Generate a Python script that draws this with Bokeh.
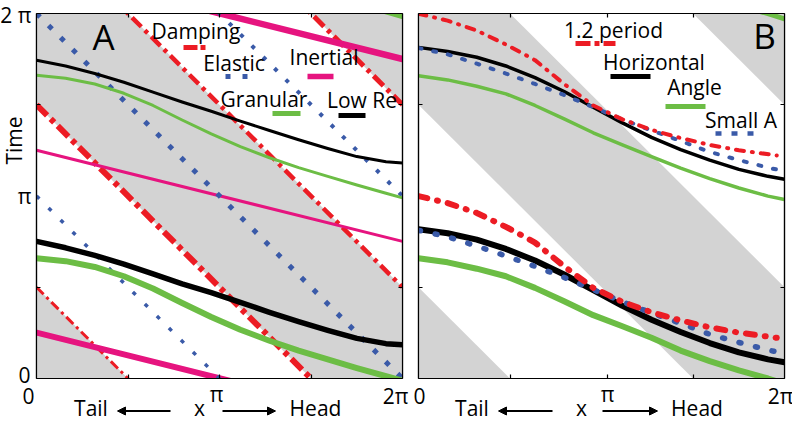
import numpy as np
from bokeh.plotting import figure
from bokeh.layouts import row, column
from bokeh.models import Label, Arrow, NormalHead, FixedTicker, LinearAxis, Range1d
from bokeh.embed import file_html
from bokeh.resources import INLINE

PI = np.pi
TAU = 2 * np.pi

# ------------------------------------------------------------------ data
# common sample positions along the body (x, radians)
x_pts = [0.0, 0.5, 1.0, 1.5, 2.0, 2.5, 3.0, 3.5, 4.0, 4.5, 5.0, 5.5, 6.0, 6.283]

# Panel A
band_lo = [-PI / 2, 3 * PI / 2, 7 * PI / 2]          # shaded travelling-wave bands (t + x)
band_hi = [PI / 2, 5 * PI / 2, 9 * PI / 2]
damping_phase = [PI / 2, 3 * PI / 2, 5 * PI / 2, 7 * PI / 2]   # t + x = phase
elastic_phase = [PI, 2 * PI, 3 * PI]
inertial_t_at_0 = [0.79, 3.93, 7.07]
inertial_t_at_2pi = [-0.78, 2.36, 5.50]
granular_low = [2.07, 2.02, 1.92, 1.76, 1.55, 1.30, 1.06, 0.84, 0.65, 0.48, 0.33, 0.18, 0.04, -0.04]
granular_high = [5.22, 5.17, 5.07, 4.91, 4.70, 4.45, 4.21, 3.99, 3.80, 3.63, 3.48, 3.33, 3.19, 3.11]
granular_wrap_x = [5.5, 6.0, 6.283]
granular_wrap_t = [6.46, 6.32, 6.24]
lowre_low = [2.36, 2.25, 2.12, 1.97, 1.80, 1.63, 1.48, 1.31, 1.14, 0.98, 0.83, 0.69, 0.60, 0.58]
lowre_high = [5.48, 5.38, 5.25, 5.10, 4.93, 4.76, 4.60, 4.43, 4.27, 4.11, 3.96, 3.82, 3.73, 3.71]

# Panel B
period12_x = [0.0, 0.5, 1.0, 1.5, 2.0, 2.5, 3.0, 3.5, 4.0, 4.5, 5.0, 5.5, 6.15]
period12_low = [3.14, 3.02, 2.85, 2.61, 2.34, 1.93, 1.56, 1.32, 1.14, 1.00, 0.88, 0.79, 0.70]
period12_high = [6.28, 6.16, 5.99, 5.75, 5.48, 5.07, 4.70, 4.46, 4.28, 4.14, 4.02, 3.93, 3.84]
horizontal_low = [2.57, 2.50, 2.39, 2.23, 2.03, 1.79, 1.52, 1.25, 1.01, 0.80, 0.61, 0.45, 0.33, 0.28]
horizontal_high = [5.70, 5.63, 5.53, 5.38, 5.18, 4.94, 4.67, 4.40, 4.15, 3.94, 3.76, 3.60, 3.48, 3.43]
angle_low = [2.07, 2.00, 1.89, 1.76, 1.56, 1.33, 1.09, 0.90, 0.70, 0.48, 0.30, 0.14, 0.00, -0.09]
angle_high = [5.21, 5.14, 5.03, 4.90, 4.70, 4.47, 4.23, 4.02, 3.82, 3.62, 3.44, 3.28, 3.14, 3.08]
angle_wrap_x = [5.5, 6.0, 6.283]
angle_wrap_t = [6.42, 6.28, 6.19]
smallA_low = [2.55, 2.44, 2.28, 2.11, 1.93, 1.74, 1.53, 1.32, 1.13, 0.95, 0.76, 0.62, 0.49, 0.43]
smallA_high = [5.69, 5.58, 5.42, 5.25, 5.07, 4.88, 4.67, 4.46, 4.27, 4.09, 3.90, 3.76, 3.63, 3.57]

ticks_A = [PI / 2, PI, 3 * PI / 2]
ticks_Bx = [PI / 2, 3.25, 3 * PI / 2]
ticks_y = [PI / 2, 3 * PI / 2]

# ------------------------------------------------------------------ style / layout
RED = "#ec1c24"
BLUE = "#3a5aa8"
MAGENTA = "#e6147f"
GREEN = "#6cbd45"
GRAY = "#d3d3d3"
FONT = "Open Sans"

FRAME_W = 366
FRAME_H = 365
FRAME_TOP = 13
FRAME_BOTTOM = FRAME_TOP + FRAME_H      # 378
LEFT_STRIP_W = 34
PANEL_H = FRAME_BOTTOM + 1             # 379
TOTAL_H = 422
MID = 0.37                             # baseline -> glyph middle, in em


def make_panel(width, border_left, border_right, xticks, yticks):
    p = figure(width=width, height=PANEL_H, x_range=Range1d(0, TAU), y_range=Range1d(0, TAU),
               output_backend="svg", toolbar_location=None,
               x_axis_location=None, y_axis_location=None,
               min_border_left=border_left, min_border_right=border_right,
               min_border_top=FRAME_TOP, min_border_bottom=PANEL_H - FRAME_BOTTOM)
    p.grid.grid_line_color = None
    p.outline_line_color = "black"
    p.outline_line_width = 1.2
    p.background_fill_color = "white"
    p.border_fill_color = "white"
    for loc, ticks in (("below", xticks), ("above", xticks), ("left", yticks), ("right", yticks)):
        ax = LinearAxis(ticker=FixedTicker(ticks=ticks), major_tick_in=4, major_tick_out=0,
                        minor_tick_line_color=None, major_label_text_font_size="0px",
                        major_label_text_color=None, major_label_standoff=0,
                        axis_line_color="black", axis_line_width=1.2,
                        major_tick_line_color="black", major_tick_line_width=1.2)
        p.add_layout(ax, loc)
    return p


def make_strip(width, height, x0, x1, y_top, y_bottom):
    # plain text canvas whose scale is in page pixels
    s = figure(width=width, height=height, x_range=Range1d(x0, x1), y_range=Range1d(y_bottom, y_top),
               output_backend="svg", toolbar_location=None,
               x_axis_location=None, y_axis_location=None,
               min_border_left=0, min_border_right=0, min_border_top=0, min_border_bottom=0)
    s.grid.grid_line_color = None
    s.outline_line_color = None
    s.background_fill_color = "white"
    s.border_fill_color = "white"
    return s


def to_data(frame_left, px, py):
    return (px - frame_left) / FRAME_W * TAU, (FRAME_BOTTOM - py) / FRAME_H * TAU


def label(p, x, y, s, size, align="center", angle=0.0):
    p.add_layout(Label(x=x, y=y, text=s, text_font=FONT, text_font_size=f"{size}px",
                       text_align=align, text_baseline="middle", angle=angle,
                       text_color="black"))


def text(p, frame_left, px, base_py, s, size, **kw):
    # base_py: baseline in page pixels; placed by glyph middle
    x, y = to_data(frame_left, px, base_py - MID * size)
    label(p, x, y, s, size, **kw)


def stext(s, px, base_py, txt, size, **kw):
    label(s, px, base_py - MID * size, txt, size, **kw)


def key(p, frame_left, px0, px1, py, **style):
    x0, y0 = to_data(frame_left, px0, py)
    x1, _ = to_data(frame_left, px1, py)
    p.line([x0, x1], [y0, y0], **style)


def bands(p):
    for lo, hi in zip(band_lo, band_hi):
        p.patch([-1, 8, 8, -1], [lo + 1, lo - 8, hi - 8, hi + 1], fill_color=GRAY, line_color=None)


# ------------------------------------------------------------------ panel A
FL_A = 36
pA = make_panel(2 + FRAME_W + 7, 2, 7, ticks_A, ticks_y)
bands(pA)

damp_w = [3, 6, 4.5, 5]
damp_dash = ["10 4 3 4", "15 5 5 5", "13 5 4 5", "14 5 4 5"]
for c, w, d in zip(damping_phase, damp_w, damp_dash):
    pA.line([0, TAU], [c, c - TAU], line_color=RED, line_width=w, line_dash=d)

for t0, t1, w in zip(inertial_t_at_0, inertial_t_at_2pi, [6, 3, 6.5]):
    pA.line([0, TAU], [t0, t1], line_color=MAGENTA, line_width=w, line_cap="round")

for c, w, d in zip(elastic_phase, [3.5, 5, 4], ["4 13", "5 12", "4 12"]):
    pA.line([0, TAU], [c, c - TAU], line_color=BLUE, line_width=w, line_dash=d)

pA.line(x_pts, granular_low, line_color=GREEN, line_width=6, line_cap="round", line_join="round")
pA.line(x_pts, granular_high, line_color=GREEN, line_width=3, line_cap="round", line_join="round")
pA.line(granular_wrap_x, granular_wrap_t, line_color=GREEN, line_width=6, line_cap="round")
pA.line(x_pts, lowre_low, line_color="black", line_width=5.5, line_cap="round", line_join="round")
pA.line(x_pts, lowre_high, line_color="black", line_width=3, line_cap="round", line_join="round")

text(pA, FL_A, 103, 49, "A", 35)
text(pA, FL_A, 195.5, 38, "Damping", 21)
key(pA, FL_A, 183, 205, 47, line_color=RED, line_width=5, line_dash="14 3 5 3")
text(pA, FL_A, 233.5, 70, "Elastic", 21)
key(pA, FL_A, 225, 247, 76, line_color=BLUE, line_width=5, line_dash="5 12")
text(pA, FL_A, 323.5, 64, "Inertial", 21)
key(pA, FL_A, 307, 333, 76, line_color=MAGENTA, line_width=5.5)
text(pA, FL_A, 263.5, 106, "Granular", 21)
key(pA, FL_A, 272, 300, 113, line_color=GREEN, line_width=5)
text(pA, FL_A, 361.5, 107, "Low Re", 21)
key(pA, FL_A, 338, 365, 115, line_color="black", line_width=5)

# ------------------------------------------------------------------ panel B
FL_B = 418
pB = make_panel(9 + FRAME_W + 8, 9, 8, ticks_Bx, ticks_y)
bands(pB)

pB.line(x_pts, angle_low, line_color=GREEN, line_width=6, line_cap="round", line_join="round")
pB.line(x_pts, angle_high, line_color=GREEN, line_width=3.5, line_cap="round", line_join="round")
pB.line(angle_wrap_x, angle_wrap_t, line_color=GREEN, line_width=5, line_cap="round")
pB.line(x_pts, horizontal_low, line_color="black", line_width=6, line_cap="round", line_join="round")
pB.line(x_pts, horizontal_high, line_color="black", line_width=3.5, line_cap="round", line_join="round")
pB.line(x_pts, smallA_low, line_color=BLUE, line_width=5.5, line_cap="round", line_dash="2 15")
pB.line(x_pts, smallA_high, line_color=BLUE, line_width=4, line_cap="round", line_dash="3 12")
pB.line(period12_x, period12_low, line_color=RED, line_width=6, line_cap="round", line_dash="9 10 1 10")
pB.line(period12_x, period12_high, line_color=RED, line_width=4, line_cap="round", line_dash="8 8 1 8")

text(pB, FL_B, 764, 48, "B", 35)
text(pB, FL_B, 613, 37, "1.2 period", 21)
key(pB, FL_B, 575, 615, 43, line_color=RED, line_width=5, line_dash="15 4 5 4")
text(pB, FL_B, 653.5, 69, "Horizontal", 21)
key(pB, FL_B, 610, 650, 76, line_color="black", line_width=5)
text(pB, FL_B, 694, 94, "Angle", 21)
key(pB, FL_B, 665, 705, 106, line_color=GREEN, line_width=5)
text(pB, FL_B, 740.5, 127, "Small A", 21)
key(pB, FL_B, 715, 753, 133, line_color=BLUE, line_width=4.5, line_dash="6 10")

# ------------------------------------------------------------------ text strips (page-pixel scales)
PANELS_W = pA.width + pB.width
left = make_strip(LEFT_STRIP_W, TOTAL_H, 0, LEFT_STRIP_W, 0, TOTAL_H)
label(left, 13, 140, "Time", 21, angle=PI / 2)
stext(left, 24, 382, "0", 21)
stext(left, 24, 203, "π", 21)
stext(left, 31, 22, "2 π", 21, align="right")
stext(left, 28, 403, "0", 21)

bottom = make_strip(PANELS_W, TOTAL_H - PANEL_H, LEFT_STRIP_W, LEFT_STRIP_W + PANELS_W, PANEL_H, TOTAL_H)


def axis_words(s, zero_px, pi_px, twopi_px, tail_px, x_px, head_px, arr_l, arr_r):
    if zero_px is not None:
        stext(s, zero_px, 403, "0", 21)
    stext(s, pi_px, 401.5, "π", 21)
    stext(s, twopi_px, 403, "2π", 21)
    stext(s, tail_px, 415, "Tail", 21)
    stext(s, x_px, 415, "x", 21)
    stext(s, head_px, 415, "Head", 21)
    for a, b in (arr_l, arr_r):
        s.add_layout(Arrow(x_start=a, y_start=410.5, x_end=b, y_end=410.5, line_width=2,
                           line_color="black",
                           end=NormalHead(size=8, fill_color="black", line_color="black",
                                          line_width=1)))


axis_words(bottom, None, 216, 395, 90.5, 199, 315, (170, 117), (222, 275))
axis_words(bottom, 419, 607, 780, 471.5, 581, 696.5, (552, 498), (602, 657))

layout = row(left, column(row(pA, pB), bottom))
open("out.html", "w").write(file_html(layout, INLINE))
